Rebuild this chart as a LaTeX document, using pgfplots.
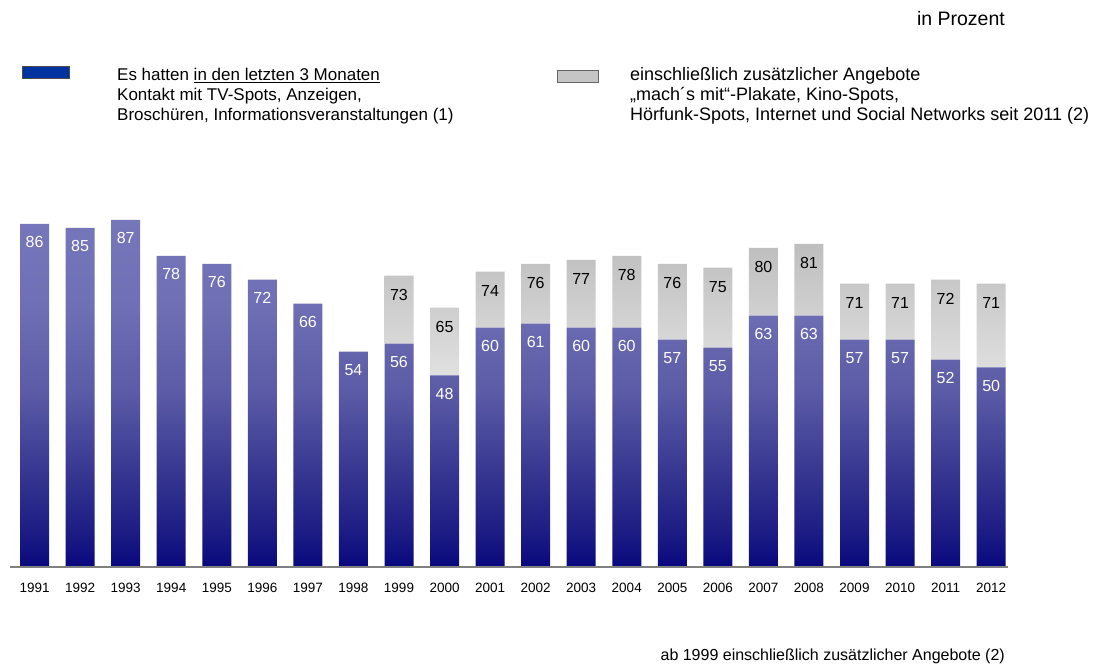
\documentclass[border=0pt]{standalone}
\usepackage{fontspec}
\setmainfont{Liberation Sans}
\usepackage{pgfplots}
\pgfplotsset{compat=1.18}

\definecolor{pA}{HTML}{08087E}
\definecolor{pB}{HTML}{1C1C84}
\definecolor{pC}{HTML}{33338F}
\definecolor{pD}{HTML}{5A5AA6}
\definecolor{pE}{HTML}{6F6FB5}
\definecolor{pF}{HTML}{7676BB}
\definecolor{grtop}{HTML}{BEBEBE}
\definecolor{grbot}{HTML}{E0E0E0}
\definecolor{legblue}{HTML}{0033A0}
\definecolor{axgray}{HTML}{808080}

\pgfdeclareverticalshading{purpleshade}{100bp}{color(0bp)=(pA); color(25bp)=(pA); color(30bp)=(pB); color(37.5bp)=(pC); color(50bp)=(pD); color(62.5bp)=(pE); color(75bp)=(pF); color(100bp)=(pF)}

\newcommand{\legfa}{\fontsize{17}{20}\selectfont}
\newcommand{\legfb}{\fontsize{18}{20}\selectfont}

\begin{document}
\begin{tikzpicture}[x=1pt,y=1pt]
\useasboundingbox (0,0) rectangle (1093,667);

% additional offers from 1999, stacked on top of the base values
\begin{axis}[
  at={(10pt,100pt)}, anchor=south west,
  scale only axis, width=998pt, height=399pt,
  xmin=-0.54, xmax=21.37, ymin=0, ymax=100,
  hide axis,
  ybar stacked, bar width=29pt,
  clip=false,
]
\addplot[draw=none, fill=none] coordinates {
(8,56) (9,48) (10,60) (11,61) (12,60) (13,60) (14,57) (15,55) (16,63) (17,63) (18,57) (19,57) (20,52) (21,50)
};
\addplot[draw=none, top color=grtop, bottom color=grbot] coordinates {
(8,17) (9,17) (10,14) (11,15) (12,17) (13,18) (14,19)
(15,20) (16,17) (17,18) (18,14) (19,14) (20,20) (21,21)
};
\end{axis}

% main bars 1991-2012 and labels
\begin{axis}[
  at={(10pt,100pt)}, anchor=south west,
  scale only axis, width=998pt, height=399pt,
  xmin=-0.54, xmax=21.37, ymin=0, ymax=100,
  axis x line*=bottom, axis y line=none,
  axis line style={draw=axgray, line width=1.2pt, -},
  axis on top,
  xtick={0,...,21},
  xticklabels={1991,1992,1993,1994,1995,1996,1997,1998,1999,2000,2001,2002,2003,2004,2005,2006,2007,2008,2009,2010,2011,2012},
  major tick length=0pt, tick style={draw=none},
  xticklabel style={font=\fontsize{13.5}{16}\selectfont, yshift=-13pt},
  ybar, bar width=29pt, bar shift=0pt,
  /pgf/number format/assume math mode=true,
  clip=false,
]
\addplot[draw=none, shading=purpleshade, nodes near coords,
  every node near coord/.append style={text=white, font=\fontsize{16}{18}\selectfont, anchor=center, yshift=-18.5pt}]
  coordinates {
(0,86) (1,85) (2,87) (3,78) (4,76) (5,72) (6,66) (7,54) (8,56) (9,48) (10,60)
(11,61) (12,60) (13,60) (14,57) (15,55) (16,63) (17,63) (18,57) (19,57) (20,52) (21,50)
};
% totals incl. additional offers (labels only)
\addplot[draw=none, fill=none, nodes near coords,
  every node near coord/.append style={text=black, font=\fontsize{16}{18}\selectfont, anchor=center, yshift=-19pt}]
  coordinates {
(8,73) (9,65) (10,74) (11,76) (12,77) (13,78) (14,76)
(15,75) (16,80) (17,81) (18,71) (19,71) (20,72) (21,71)
};
\end{axis}

% header text
\node[anchor=base east, inner sep=0, font=\fontsize{19.5}{22}\selectfont] at (1005,641) {in Prozent};

% legend
\draw[fill=legblue, draw=black!70, line width=0.8pt] (22,589) rectangle (69,601);
\node[anchor=base west, inner sep=0, font=\legfa] at (117,586) {Es hatten \underline{in den letzten 3 Monaten}};
\node[anchor=base west, inner sep=0, font=\legfa] at (117,566) {Kontakt mit TV-Spots, Anzeigen,};
\node[anchor=base west, inner sep=0, font=\legfa] at (117,546) {Broschüren, Informationsveranstaltungen (1)};

\draw[fill=grtop!90!white, draw=black!60, line width=0.8pt] (557,585) rectangle (598,597);
\node[anchor=base west, inner sep=0, font=\legfb] at (630,586) {einschließlich zusätzlicher Angebote};
\node[anchor=base west, inner sep=0, font=\legfb] at (630,566) {„mach´s mit“-Plakate, Kino-Spots,};
\node[anchor=base west, inner sep=0, font=\legfb] at (630,546) {Hörfunk-Spots, Internet und Social Networks seit 2011 (2)};

% footnote
\node[anchor=base east, inner sep=0, font=\fontsize{16}{18}\selectfont] at (1005,6) {ab 1999 einschließlich zusätzlicher Angebote (2)};
\end{tikzpicture}
\end{document}
